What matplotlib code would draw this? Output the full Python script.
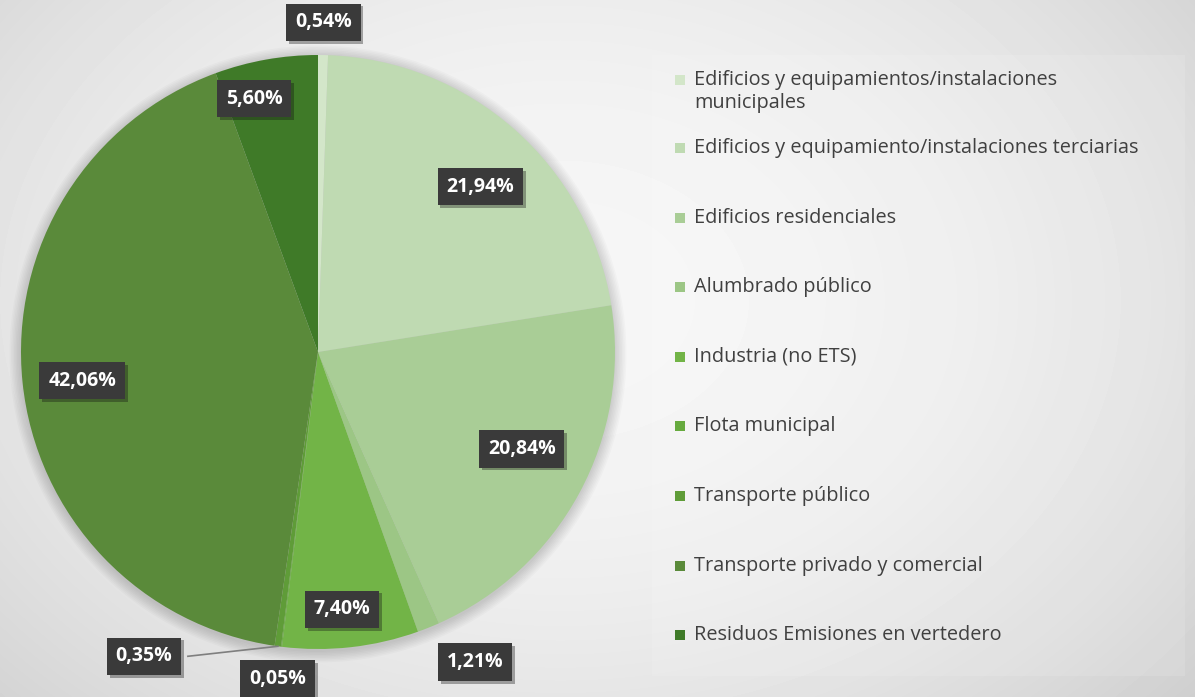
import numpy as np
import matplotlib.pyplot as plt
from matplotlib.patches import Rectangle, Circle
import matplotlib.patheffects as pe

# emission shares by sector (%), clockwise from 12 o'clock
sectores = [
    "Edificios y equipamientos/instalaciones\nmunicipales",
    "Edificios y equipamiento/instalaciones terciarias",
    "Edificios residenciales",
    "Alumbrado público",
    "Industria (no ETS)",
    "Flota municipal",
    "Transporte público",
    "Transporte privado y comercial",
    "Residuos Emisiones en vertedero",
]
valores = [0.54, 21.94, 20.84, 1.21, 7.40, 0.05, 0.35, 42.06, 5.60]
colores = ["#d3e6c9", "#bfdab2", "#a9cd96", "#9cc685", "#72b447",
           "#66aa3e", "#5f9c38", "#5a8a3a", "#3f7a28"]

# label placement: (radius factor, angle shift in degrees)
lab_pos = [(1.11, 0), (0.78, -3), (0.76, 3), (1.17, 5), (0.87, -1),
           (1.11, 0), (None, 0), (0.80, 1), (0.88, 4)]

W, H = 1195, 697
cx, cy, R = 318, H - 352, 297

fig = plt.figure(figsize=(W / 100, H / 100), dpi=100)
ax = fig.add_axes([0, 0, 1, 1])

# soft grey background
yy, xx = np.mgrid[0:H, 0:W]
dx = (xx - 560) / 700.0
dy = (yy - 300) / 520.0
bg = np.clip(0.965 - 0.11 * (dx ** 2 + dy ** 2), 0, 1)
ax.imshow(bg, cmap="gray", vmin=0, vmax=1, extent=[0, W, 0, H],
          origin="upper", zorder=0, interpolation="bilinear")

# faint halo round the pie
for k in range(8):
    ax.add_patch(Circle((cx, cy - 2), R + 1 + k * 1.5, color="black",
                        alpha=0.018, lw=0, zorder=1))

wedges, _ = ax.pie(valores, colors=colores, startangle=90, counterclock=False,
                   center=(cx, cy), radius=R,
                   wedgeprops=dict(linewidth=0, zorder=2))
for w in wedges:
    w.set_zorder(2)

box = dict(boxstyle="square,pad=0.45", facecolor="#3a3a3a", edgecolor="none")
cum = np.cumsum([0] + valores)
for i, v in enumerate(valores):
    mid = np.deg2rad(90 - 3.6 * (cum[i] + v / 2))
    txt = f"{v:.2f}%".replace(".", ",")
    f, shift = lab_pos[i]
    if f is None:
        # small slice pulled out with a leader line
        ex, ey = cx + R * np.cos(mid), cy + R * np.sin(mid)
        tx, ty = ex - 134, ey - 10
        ax.plot([ex, tx + 44], [ey, ty], color="#7f7f7f", lw=1.2, zorder=3)
    else:
        a = mid + np.deg2rad(shift)
        tx, ty = cx + f * R * np.cos(a), cy + f * R * np.sin(a)
    t = ax.text(tx, ty, txt, ha="center", va="center", color="white",
                fontsize=14, fontweight="bold", family="Open Sans",
                bbox=box, zorder=5)
    t.get_bbox_patch().set_path_effects(
        [pe.SimplePatchShadow(offset=(2, -2), alpha=0.35), pe.Normal()])

# legend panel
ax.add_patch(Rectangle((652, H - 676), 533, 621, facecolor="white",
                       alpha=0.12, edgecolor="none", zorder=1))
rows_y = [91.5] + [148 + 69.6 * k for k in range(len(sectores) - 1)]
for i, (name, col) in enumerate(zip(sectores, colores)):
    y = H - rows_y[i]
    yt = y + 11.5 if "\n" in name else y
    ax.add_patch(Rectangle((675, yt - 5), 10, 10, facecolor=col,
                           edgecolor="none", zorder=3))
    ax.text(694, y, name, ha="left", va="center", fontsize=14.3,
            color="#404040", family="Open Sans", linespacing=1.15, zorder=3)

ax.set_xlim(0, W)
ax.set_ylim(0, H)
ax.set_aspect("auto")
ax.axis("off")
fig.savefig("out.png", dpi=100)
